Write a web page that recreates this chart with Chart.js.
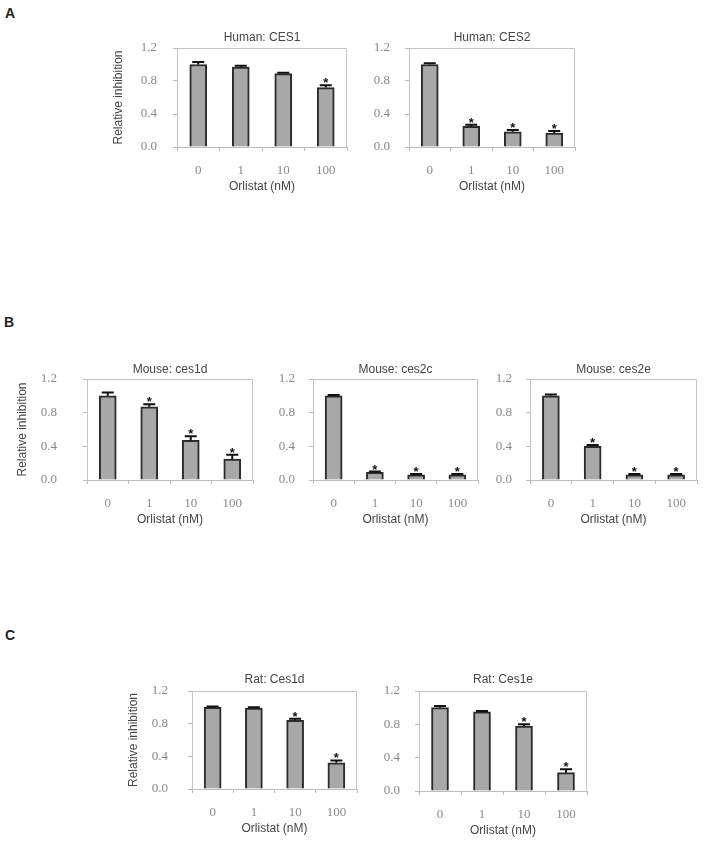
<!DOCTYPE html>
<html>
<head>
<meta charset="utf-8">
<script src="https://cdn.jsdelivr.net/npm/chart.js@4.4.1/dist/chart.umd.min.js"></script>
<style>
body { margin: 0; background: #fff; }
#page { position: relative; width: 705px; height: 844px; overflow: hidden; background: #fff; }
.letter { position: absolute; font: bold 14px "Liberation Sans", Arial, sans-serif; color: #222; line-height: 14px; }
canvas { position: absolute; }
</style>
</head>
<body>
<div id="page">
  <div class="letter" style="left:5px;top:6px">A</div>
  <div class="letter" style="left:4px;top:315px">B</div>
  <div class="letter" style="left:5px;top:628px">C</div>
</div>
<script>
// doses on the x axis and y tick values
var doses = ['0', '1', '10', '100'];
var yTicks = [0, 0.4, 0.8, 1.2];

// A: human
var humanCES1 = [1.00, 0.97, 0.89, 0.72];
var humanCES1Err = [0.03, 0.015, 0.01, 0.03];
var humanCES1Sig = [false, false, false, true];

var humanCES2 = [1.00, 0.25, 0.185, 0.17];
var humanCES2Err = [0.015, 0.02, 0.02, 0.025];
var humanCES2Sig = [false, true, true, true];

// B: mouse
var mouseCes1d = [1.00, 0.87, 0.47, 0.25];
var mouseCes1dErr = [0.04, 0.03, 0.05, 0.05];
var mouseCes1dSig = [false, true, true, true];

var mouseCes2c = [1.00, 0.09, 0.06, 0.06];
var mouseCes2cErr = [0.01, 0.01, 0.01, 0.01];
var mouseCes2cSig = [false, true, true, true];

var mouseCes2e = [1.00, 0.40, 0.06, 0.06];
var mouseCes2eErr = [0.015, 0.015, 0.01, 0.01];
var mouseCes2eSig = [false, true, true, true];

// C: rat
var ratCes1d = [1.00, 0.99, 0.84, 0.32];
var ratCes1dErr = [0.01, 0.01, 0.02, 0.03];
var ratCes1dSig = [false, false, true, true];

var ratCes1e = [1.00, 0.95, 0.78, 0.22];
var ratCes1eErr = [0.02, 0.01, 0.02, 0.04];
var ratCes1eSig = [false, false, true, true];

// frame, error bars and asterisks
var errorBarPlugin = {
    id: 'errorBars',
    afterDatasetsDraw: function(chart) {
        var ctx = chart.ctx;
        var a = chart.chartArea;
        var ds = chart.data.datasets[0];
        var meta = chart.getDatasetMeta(0);
        var yScale = chart.scales.y;

        ctx.save();
        ctx.strokeStyle = '#c4c4c4';
        ctx.lineWidth = 1;
        ctx.beginPath();
        ctx.moveTo(a.left, a.top + 0.5);
        ctx.lineTo(a.right - 0.5, a.top + 0.5);
        ctx.lineTo(a.right - 0.5, a.bottom);
        ctx.stroke();

        ctx.strokeStyle = '#111';
        ctx.fillStyle = '#111';
        ctx.lineWidth = 2;
        ctx.font = 'bold 13px "Liberation Sans", Arial, sans-serif';
        ctx.textAlign = 'center';
        ctx.textBaseline = 'alphabetic';
        meta.data.forEach(function(bar, i) {
            var v = ds.data[i];
            var top = yScale.getPixelForValue(v + ds.errors[i]);
            ctx.beginPath();
            ctx.moveTo(bar.x, bar.y);
            ctx.lineTo(bar.x, top);
            ctx.moveTo(bar.x - 6, top);
            ctx.lineTo(bar.x + 6, top);
            ctx.stroke();
            if (ds.sig[i]) {
                ctx.fillText('*', bar.x, top + 2);
            }
        });
        ctx.restore();
    }
};

function noPad(scale) {
    scale.paddingTop = 0;
    scale.paddingBottom = 0;
    scale.paddingLeft = 0;
    scale.paddingRight = 0;
}

function makePanel(p) {
    var canvas = document.createElement('canvas');
    var yW = p.yW;
    var left = p.l - yW;
    var top = p.titleY - 6;
    var width = yW + (p.r - p.l) + 2;
    var height = (p.b - top) + 47;
    canvas.width = width;
    canvas.height = height;
    canvas.style.left = left + 'px';
    canvas.style.top = top + 'px';
    canvas.style.width = width + 'px';
    canvas.style.height = height + 'px';
    document.getElementById('page').appendChild(canvas);

    new Chart(canvas, {
        type: 'bar',
        data: {
            labels: doses,
            datasets: [{
                data: p.values,
                errors: p.errors,
                sig: p.sig,
                backgroundColor: '#a8a8a8',
                borderColor: '#2b2b2b',
                borderWidth: 2,
                barThickness: 17
            }]
        },
        options: {
            responsive: false,
            animation: false,
            layout: { autoPadding: false, padding: { left: 0, right: 2, top: 0, bottom: 0 } },
            plugins: {
                legend: { display: false },
                tooltip: { enabled: false },
                title: {
                    display: true,
                    text: p.title,
                    fullSize: false,
                    color: '#444',
                    font: { family: '"Liberation Sans", Arial, sans-serif', size: 12, weight: 'normal', lineHeight: 1 },
                    padding: { top: 0, bottom: p.t - p.titleY - 6 }
                }
            },
            scales: {
                x: {
                    grid: { drawOnChartArea: false, drawTicks: true, tickLength: 4, color: '#bbb' },
                    border: { color: '#bdbdbd' },
                    ticks: {
                        color: '#8a8a8a', padding: 12, maxRotation: 0,
                        font: { family: '"Liberation Serif", "DejaVu Serif", serif', size: 13 }
                    },
                    title: {
                        display: true, text: 'Orlistat (nM)', color: '#444', padding: 0,
                        font: { family: '"Liberation Sans", Arial, sans-serif', size: 12 }
                    },
                    afterFit: function(scale) { scale.height = 47; noPad(scale); }
                },
                y: {
                    min: 0,
                    max: 1.2,
                    afterBuildTicks: function(scale) {
                        scale.ticks = yTicks.map(function(v) { return { value: v }; });
                    },
                    grid: { drawOnChartArea: false, drawTicks: true, tickLength: 4, color: '#bbb' },
                    border: { color: '#c4c4c4' },
                    ticks: {
                        color: '#8a8a8a', padding: p.tickPad,
                        font: { family: '"Liberation Serif", "DejaVu Serif", serif', size: 13 },
                        callback: function(v) { return Number(v).toFixed(1); }
                    },
                    title: {
                        display: p.yTitle, text: 'Relative inhibition', color: '#444', padding: 0,
                        font: { family: '"Liberation Sans", Arial, sans-serif', size: 12 }
                    },
                    afterFit: function(scale) { scale.width = yW; noPad(scale); }
                }
            }
        },
        plugins: [errorBarPlugin]
    });
}

makePanel({ title: 'Human: CES1', values: humanCES1, errors: humanCES1Err, sig: humanCES1Sig,
    l: 177, r: 347, t: 48, b: 147, titleY: 38, yW: 66, tickPad: 16, yTitle: true });
makePanel({ title: 'Human: CES2', values: humanCES2, errors: humanCES2Err, sig: humanCES2Sig,
    l: 409, r: 575, t: 48, b: 147, titleY: 38, yW: 50, tickPad: 15, yTitle: false });

makePanel({ title: 'Mouse: ces1d', values: mouseCes1d, errors: mouseCes1dErr, sig: mouseCes1dSig,
    l: 87, r: 253, t: 379, b: 480, titleY: 370, yW: 72, tickPad: 26, yTitle: true });
makePanel({ title: 'Mouse: ces2c', values: mouseCes2c, errors: mouseCes2cErr, sig: mouseCes2cSig,
    l: 313, r: 478, t: 379, b: 480, titleY: 370, yW: 50, tickPad: 14, yTitle: false });
makePanel({ title: 'Mouse: ces2e', values: mouseCes2e, errors: mouseCes2eErr, sig: mouseCes2eSig,
    l: 530, r: 697, t: 379, b: 480, titleY: 370, yW: 50, tickPad: 14, yTitle: false });

makePanel({ title: 'Rat: Ces1d', values: ratCes1d, errors: ratCes1dErr, sig: ratCes1dSig,
    l: 192, r: 357, t: 691, b: 789, titleY: 680, yW: 66, tickPad: 20, yTitle: true });
makePanel({ title: 'Rat: Ces1e', values: ratCes1e, errors: ratCes1eErr, sig: ratCes1eSig,
    l: 419, r: 587, t: 691, b: 791, titleY: 680, yW: 50, tickPad: 15, yTitle: false });
</script>
</body>
</html>
